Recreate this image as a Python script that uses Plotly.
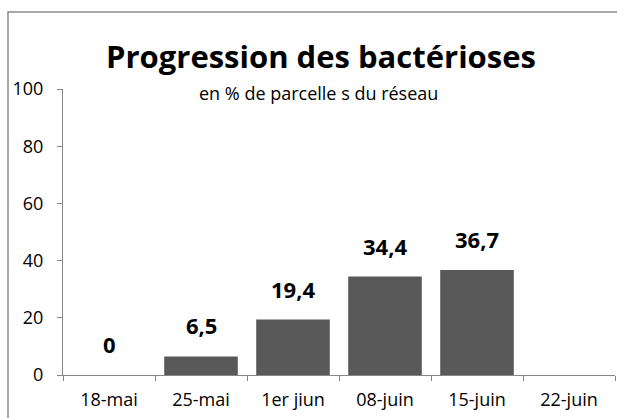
import plotly.graph_objects as go

categories = ["18-mai", "25-mai", "1er jiun", "08-juin", "15-juin", "22-juin"]
values = [0, 6.5, 19.4, 34.4, 36.7, None]
y_ticks = [0, 20, 40, 60, 80, 100]

W, H = 617, 418
ML, MR, MT, MB = 63, 2, 89, 43
FONT = "'Open Sans', Carlito, Calibri, sans-serif"

fig = go.Figure()
fig.add_trace(go.Bar(
    x=categories, y=values,
    marker=dict(color="#595959", line=dict(width=0)),
    width=0.8,
    hoverinfo="skip",
))

for c, v in zip(categories, values):
    if v is None:
        continue
    fig.add_annotation(
        x=c, y=v, text=f"{v:g}".replace(".", ","),
        showarrow=False, yanchor="bottom", yshift=14,
        font=dict(family=FONT, size=22, color="#000000", weight="bold"),
    )

pw = W - ML - MR
ph = H - MT - MB
fig.add_annotation(
    xref="paper", yref="paper", x=(318 - ML) / pw, y=(H - MB - 93) / ph,
    text="en % de parcelle s du réseau", showarrow=False,
    xanchor="center", yanchor="middle",
    font=dict(family=FONT, size=18, color="#000000"),
)

# outer chart border
fig.add_shape(
    type="rect", xref="paper", yref="paper",
    x0=(8 - ML) / pw, x1=(640 - ML) / pw,
    y0=(H - MB - 440) / ph, y1=(H - MB - 12) / ph,
    line=dict(color="#8a8a8a", width=1.5), fillcolor="rgba(0,0,0,0)",
    layer="below",
)

fig.update_layout(
    width=W, height=H,
    margin=dict(l=ML, r=MR, t=MT, b=MB),
    paper_bgcolor="white", plot_bgcolor="white",
    showlegend=False,
    title=dict(
        text="<b>Progression des bactérioses</b>",
        x=321 / W, xanchor="center", xref="container",
        y=1 - 57 / H, yanchor="middle", yref="container",
        font=dict(family=FONT, size=31, color="#000000"),
    ),
    xaxis=dict(
        type="category", categoryorder="array", categoryarray=categories,
        showline=True, linecolor="#868686", linewidth=1,
        ticks="outside", tickson="boundaries", ticklen=5, tickcolor="#868686",
        showgrid=False, zeroline=False,
        tickfont=dict(family=FONT, size=18, color="#000000"),
        ticklabelstandoff=8,
        range=[-0.5, 5.5],
    ),
    yaxis=dict(
        range=[0, 100], tickvals=y_ticks,
        showline=True, linecolor="#868686", linewidth=1,
        ticks="outside", ticklen=5, tickcolor="#868686",
        showgrid=False, zeroline=False,
        tickfont=dict(family=FONT, size=18, color="#000000"),
        ticklabelstandoff=10,
    ),
)

fig.write_html(
    "out.html",
    config={"displayModeBar": False},
    post_script="document.body.style.margin='0';document.body.style.overflow='hidden';",
)
